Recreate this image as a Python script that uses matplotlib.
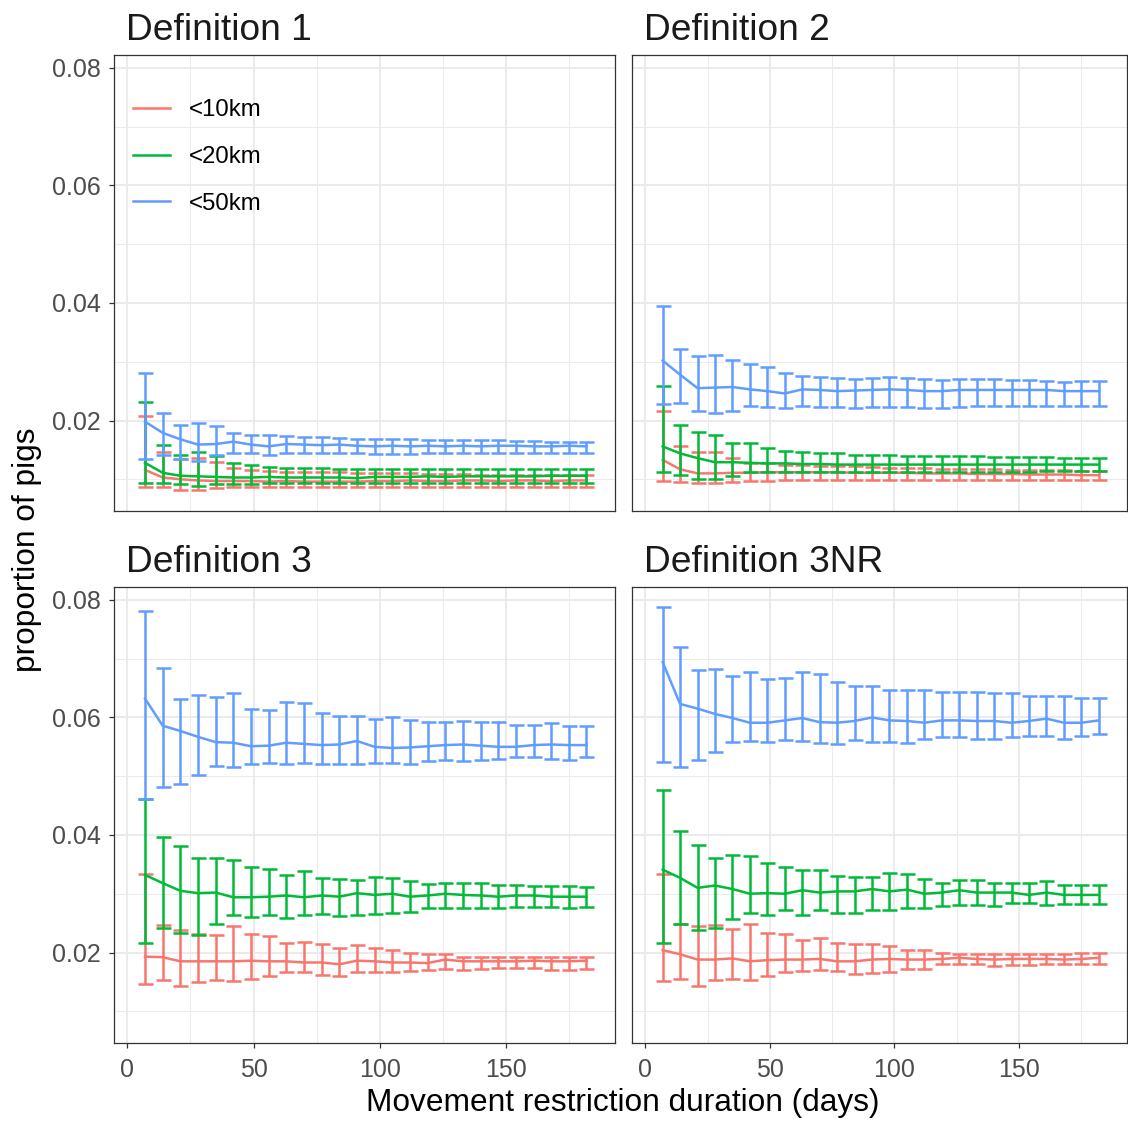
import numpy as np
import matplotlib
matplotlib.use("Agg")
from matplotlib import pyplot as plt
from matplotlib.ticker import MultipleLocator

plt.rcParams['font.family'] = ['Liberation Sans', 'DejaVu Sans']

days = list(range(7, 183, 7))
labels = ["<10km", "<20km", "<50km"]
colors = ["#F8766D", "#00BA38", "#619CFF"]
titles = ["Definition 1", "Definition 2", "Definition 3", "Definition 3NR"]

# Definition 1
d1_10_mean = [0.0116, 0.0103, 0.0100, 0.0098, 0.0097, 0.0097, 0.0097, 0.0096, 0.0097, 0.0096, 0.0096, 0.0096, 0.0096,
              0.0097, 0.0097, 0.0098, 0.0097, 0.0097, 0.0098, 0.0098, 0.0097, 0.0098, 0.0098, 0.0097, 0.0098, 0.0098]
d1_10_hi = [0.0207, 0.0147, 0.0134, 0.0136, 0.0129, 0.0120, 0.0115, 0.0114, 0.0113, 0.0113, 0.0112, 0.0112, 0.0111,
            0.0110, 0.0110, 0.0110, 0.0109, 0.0109, 0.0109, 0.0108, 0.0108, 0.0108, 0.0108, 0.0108, 0.0107, 0.0107]
d1_10_lo = [0.0086, 0.0086, 0.0081, 0.0082, 0.0085, 0.0087, 0.0087, 0.0087, 0.0087, 0.0087, 0.0087, 0.0087, 0.0087,
            0.0086, 0.0087, 0.0087, 0.0087, 0.0087, 0.0087, 0.0087, 0.0087, 0.0087, 0.0087, 0.0087, 0.0087, 0.0087]
d1_20_mean = [0.0128, 0.0111, 0.0106, 0.0105, 0.0104, 0.0103, 0.0103, 0.0104, 0.0103, 0.0103, 0.0103, 0.0103, 0.0102,
              0.0104, 0.0104, 0.0104, 0.0105, 0.0104, 0.0105, 0.0105, 0.0105, 0.0105, 0.0105, 0.0106, 0.0106, 0.0106]
d1_20_hi = [0.0231, 0.0158, 0.0141, 0.0146, 0.0140, 0.0128, 0.0124, 0.0121, 0.0119, 0.0119, 0.0119, 0.0118, 0.0118,
            0.0118, 0.0117, 0.0117, 0.0117, 0.0117, 0.0117, 0.0117, 0.0117, 0.0117, 0.0117, 0.0117, 0.0117, 0.0117]
d1_20_lo = [0.0094, 0.0094, 0.0092, 0.0089, 0.0092, 0.0092, 0.0092, 0.0093, 0.0093, 0.0093, 0.0093, 0.0093, 0.0093,
            0.0094, 0.0094, 0.0094, 0.0094, 0.0094, 0.0094, 0.0094, 0.0094, 0.0094, 0.0094, 0.0094, 0.0094, 0.0094]
d1_50_mean = [0.0198, 0.0179, 0.0168, 0.0159, 0.0160, 0.0164, 0.0159, 0.0156, 0.0160, 0.0159, 0.0158, 0.0159, 0.0157,
              0.0156, 0.0157, 0.0156, 0.0157, 0.0156, 0.0157, 0.0156, 0.0157, 0.0157, 0.0156, 0.0156, 0.0157, 0.0156]
d1_50_hi = [0.0281, 0.0212, 0.0193, 0.0196, 0.0190, 0.0179, 0.0176, 0.0176, 0.0173, 0.0172, 0.0172, 0.0170, 0.0168,
            0.0168, 0.0168, 0.0168, 0.0167, 0.0167, 0.0167, 0.0166, 0.0166, 0.0165, 0.0165, 0.0164, 0.0163, 0.0163]
d1_50_lo = [0.0135, 0.0142, 0.0134, 0.0131, 0.0141, 0.0145, 0.0145, 0.0142, 0.0145, 0.0145, 0.0145, 0.0145, 0.0144,
            0.0143, 0.0143, 0.0143, 0.0144, 0.0144, 0.0144, 0.0144, 0.0144, 0.0144, 0.0144, 0.0145, 0.0145, 0.0145]

# Definition 2
d2_10_mean = [0.0133, 0.0117, 0.0110, 0.0110, 0.0111, 0.0111, 0.0112, 0.0112, 0.0112, 0.0112, 0.0112, 0.0111, 0.0111,
              0.0111, 0.0111, 0.0110, 0.0110, 0.0110, 0.0109, 0.0109, 0.0109, 0.0108, 0.0108, 0.0108, 0.0107, 0.0107]
d2_10_hi = [0.0217, 0.0156, 0.0147, 0.0147, 0.0137, 0.0128, 0.0127, 0.0125, 0.0124, 0.0123, 0.0123, 0.0122, 0.0121,
            0.0120, 0.0119, 0.0119, 0.0118, 0.0118, 0.0117, 0.0117, 0.0116, 0.0116, 0.0115, 0.0115, 0.0114, 0.0114]
d2_10_lo = [0.0097, 0.0095, 0.0093, 0.0093, 0.0095, 0.0097, 0.0097, 0.0098, 0.0098, 0.0098, 0.0099, 0.0099, 0.0099,
            0.0099, 0.0099, 0.0099, 0.0099, 0.0099, 0.0099, 0.0099, 0.0099, 0.0099, 0.0099, 0.0099, 0.0099, 0.0099]
d2_20_mean = [0.0156, 0.0144, 0.0136, 0.0129, 0.0129, 0.0128, 0.0127, 0.0127, 0.0126, 0.0126, 0.0125, 0.0125, 0.0125,
              0.0125, 0.0125, 0.0125, 0.0125, 0.0125, 0.0125, 0.0125, 0.0125, 0.0125, 0.0125, 0.0125, 0.0125, 0.0125]
d2_20_hi = [0.0258, 0.0192, 0.0180, 0.0176, 0.0162, 0.0162, 0.0154, 0.0148, 0.0146, 0.0145, 0.0144, 0.0142, 0.0141,
            0.0141, 0.0140, 0.0140, 0.0139, 0.0139, 0.0139, 0.0138, 0.0138, 0.0138, 0.0138, 0.0137, 0.0137, 0.0137]
d2_20_lo = [0.0112, 0.0108, 0.0101, 0.0101, 0.0106, 0.0112, 0.0112, 0.0112, 0.0112, 0.0112, 0.0112, 0.0112, 0.0113,
            0.0113, 0.0113, 0.0113, 0.0113, 0.0113, 0.0113, 0.0113, 0.0113, 0.0113, 0.0114, 0.0114, 0.0114, 0.0114]
d2_50_mean = [0.0302, 0.0278, 0.0255, 0.0256, 0.0257, 0.0253, 0.0250, 0.0246, 0.0253, 0.0252, 0.0250, 0.0251, 0.0252,
              0.0253, 0.0252, 0.0250, 0.0250, 0.0252, 0.0252, 0.0252, 0.0252, 0.0252, 0.0252, 0.0250, 0.0250, 0.0250]
d2_50_hi = [0.0395, 0.0322, 0.0309, 0.0312, 0.0303, 0.0297, 0.0291, 0.0281, 0.0275, 0.0274, 0.0273, 0.0271, 0.0273,
            0.0274, 0.0273, 0.0270, 0.0269, 0.0270, 0.0271, 0.0270, 0.0269, 0.0269, 0.0268, 0.0266, 0.0268, 0.0268]
d2_50_lo = [0.0228, 0.0230, 0.0217, 0.0212, 0.0217, 0.0224, 0.0223, 0.0221, 0.0224, 0.0223, 0.0223, 0.0221, 0.0223,
            0.0223, 0.0223, 0.0221, 0.0221, 0.0223, 0.0224, 0.0224, 0.0224, 0.0224, 0.0224, 0.0224, 0.0224, 0.0224]

# Definition 3
d3_10_mean = [0.0193, 0.0192, 0.0185, 0.0185, 0.0185, 0.0185, 0.0186, 0.0185, 0.0185, 0.0183, 0.0183, 0.0180, 0.0186,
              0.0185, 0.0183, 0.0183, 0.0182, 0.0188, 0.0185, 0.0185, 0.0185, 0.0185, 0.0186, 0.0185, 0.0185, 0.0186]
d3_10_hi = [0.0334, 0.0247, 0.0239, 0.0231, 0.0229, 0.0245, 0.0231, 0.0228, 0.0217, 0.0218, 0.0214, 0.0208, 0.0212,
            0.0208, 0.0204, 0.0200, 0.0197, 0.0198, 0.0193, 0.0192, 0.0192, 0.0192, 0.0193, 0.0193, 0.0193, 0.0193]
d3_10_lo = [0.0146, 0.0154, 0.0143, 0.0149, 0.0153, 0.0152, 0.0155, 0.0160, 0.0167, 0.0166, 0.0161, 0.0160, 0.0167,
            0.0167, 0.0167, 0.0168, 0.0170, 0.0172, 0.0171, 0.0172, 0.0173, 0.0173, 0.0173, 0.0171, 0.0171, 0.0172]
d3_20_mean = [0.0332, 0.0318, 0.0305, 0.0301, 0.0302, 0.0294, 0.0294, 0.0295, 0.0297, 0.0294, 0.0297, 0.0295, 0.0301,
              0.0298, 0.0300, 0.0295, 0.0297, 0.0300, 0.0298, 0.0297, 0.0295, 0.0297, 0.0297, 0.0295, 0.0295, 0.0295]
d3_20_hi = [0.0462, 0.0397, 0.0381, 0.0360, 0.0360, 0.0358, 0.0345, 0.0342, 0.0332, 0.0338, 0.0327, 0.0325, 0.0324,
            0.0329, 0.0327, 0.0322, 0.0317, 0.0318, 0.0319, 0.0318, 0.0315, 0.0315, 0.0314, 0.0314, 0.0314, 0.0311]
d3_20_lo = [0.0216, 0.0242, 0.0233, 0.0230, 0.0249, 0.0264, 0.0260, 0.0264, 0.0259, 0.0263, 0.0266, 0.0262, 0.0263,
            0.0265, 0.0268, 0.0269, 0.0276, 0.0276, 0.0276, 0.0276, 0.0276, 0.0277, 0.0277, 0.0277, 0.0276, 0.0277]
d3_50_mean = [0.0632, 0.0586, 0.0577, 0.0567, 0.0558, 0.0557, 0.0551, 0.0552, 0.0557, 0.0555, 0.0553, 0.0554, 0.0560,
              0.0550, 0.0548, 0.0549, 0.0551, 0.0553, 0.0554, 0.0552, 0.0550, 0.0550, 0.0553, 0.0554, 0.0553, 0.0553]
d3_50_hi = [0.0781, 0.0685, 0.0632, 0.0639, 0.0634, 0.0641, 0.0615, 0.0612, 0.0626, 0.0625, 0.0608, 0.0603, 0.0602,
            0.0598, 0.0600, 0.0596, 0.0592, 0.0592, 0.0594, 0.0593, 0.0592, 0.0588, 0.0588, 0.0590, 0.0586, 0.0586]
d3_50_lo = [0.0462, 0.0481, 0.0486, 0.0502, 0.0517, 0.0515, 0.0520, 0.0523, 0.0520, 0.0523, 0.0521, 0.0520, 0.0520,
            0.0523, 0.0523, 0.0521, 0.0526, 0.0527, 0.0526, 0.0528, 0.0530, 0.0532, 0.0533, 0.0530, 0.0527, 0.0533]

# Definition 3NR
d3nr_10_mean = [0.0204, 0.0197, 0.0188, 0.0188, 0.0190, 0.0185, 0.0187, 0.0188, 0.0188, 0.0189, 0.0185, 0.0185, 0.0188,
                0.0189, 0.0188, 0.0188, 0.0189, 0.0191, 0.0189, 0.0188, 0.0189, 0.0189, 0.0189, 0.0188, 0.0189, 0.0191]
d3nr_10_hi = [0.0334, 0.0249, 0.0245, 0.0246, 0.0240, 0.0249, 0.0234, 0.0231, 0.0221, 0.0224, 0.0216, 0.0215, 0.0215,
              0.0211, 0.0205, 0.0204, 0.0200, 0.0198, 0.0197, 0.0198, 0.0198, 0.0198, 0.0198, 0.0198, 0.0199, 0.0199]
d3nr_10_lo = [0.0151, 0.0155, 0.0143, 0.0153, 0.0155, 0.0154, 0.0160, 0.0167, 0.0168, 0.0170, 0.0168, 0.0164, 0.0165,
              0.0167, 0.0172, 0.0172, 0.0180, 0.0180, 0.0180, 0.0177, 0.0178, 0.0178, 0.0180, 0.0180, 0.0180, 0.0180]
d3nr_20_mean = [0.0341, 0.0327, 0.0310, 0.0314, 0.0308, 0.0300, 0.0301, 0.0300, 0.0306, 0.0302, 0.0304, 0.0304, 0.0308,
                0.0304, 0.0307, 0.0300, 0.0302, 0.0306, 0.0302, 0.0302, 0.0302, 0.0298, 0.0302, 0.0298, 0.0298, 0.0298]
d3nr_20_hi = [0.0476, 0.0406, 0.0383, 0.0360, 0.0366, 0.0364, 0.0353, 0.0345, 0.0341, 0.0341, 0.0331, 0.0328, 0.0328,
              0.0335, 0.0334, 0.0325, 0.0318, 0.0324, 0.0324, 0.0318, 0.0318, 0.0318, 0.0321, 0.0315, 0.0315, 0.0315]
d3nr_20_lo = [0.0216, 0.0249, 0.0239, 0.0242, 0.0257, 0.0267, 0.0264, 0.0272, 0.0264, 0.0272, 0.0267, 0.0267, 0.0272,
              0.0272, 0.0276, 0.0276, 0.0279, 0.0281, 0.0280, 0.0279, 0.0284, 0.0284, 0.0281, 0.0283, 0.0283, 0.0283]
d3nr_50_mean = [0.0694, 0.0623, 0.0615, 0.0606, 0.0599, 0.0591, 0.0591, 0.0595, 0.0599, 0.0592, 0.0591, 0.0594, 0.0600,
                0.0595, 0.0594, 0.0591, 0.0595, 0.0595, 0.0594, 0.0594, 0.0591, 0.0594, 0.0598, 0.0591, 0.0591, 0.0595]
d3nr_50_hi = [0.0788, 0.0720, 0.0680, 0.0683, 0.0671, 0.0678, 0.0666, 0.0667, 0.0677, 0.0674, 0.0661, 0.0653, 0.0653,
              0.0647, 0.0647, 0.0646, 0.0643, 0.0643, 0.0643, 0.0641, 0.0641, 0.0636, 0.0636, 0.0637, 0.0633, 0.0633]
d3nr_50_lo = [0.0524, 0.0516, 0.0527, 0.0542, 0.0558, 0.0560, 0.0558, 0.0561, 0.0560, 0.0556, 0.0555, 0.0562, 0.0558,
              0.0558, 0.0557, 0.0564, 0.0567, 0.0567, 0.0564, 0.0563, 0.0567, 0.0569, 0.0569, 0.0564, 0.0569, 0.0572]

panels = [
    [(d1_10_mean, d1_10_lo, d1_10_hi), (d1_20_mean, d1_20_lo, d1_20_hi), (d1_50_mean, d1_50_lo, d1_50_hi)],
    [(d2_10_mean, d2_10_lo, d2_10_hi), (d2_20_mean, d2_20_lo, d2_20_hi), (d2_50_mean, d2_50_lo, d2_50_hi)],
    [(d3_10_mean, d3_10_lo, d3_10_hi), (d3_20_mean, d3_20_lo, d3_20_hi), (d3_50_mean, d3_50_lo, d3_50_hi)],
    [(d3nr_10_mean, d3nr_10_lo, d3nr_10_hi), (d3nr_20_mean, d3nr_20_lo, d3nr_20_hi),
     (d3nr_50_mean, d3nr_50_lo, d3nr_50_hi)],
]

W, H = 1128, 1121
fig = plt.figure(figsize=(W / 100, H / 100), dpi=100)

# panel boxes in pixels: left, top, right, bottom
boxes = [(114, 55, 615, 511), (632, 55, 1127, 511),
         (114, 587, 615, 1043), (632, 587, 1127, 1043)]

x = np.array(days)
for i, (l, t, r, b) in enumerate(boxes):
    ax = fig.add_axes([l / W, 1 - b / H, (r - l) / W, (b - t) / H])
    for s, (m, lo, hi) in enumerate(panels[i]):
        m = np.array(m)
        lo = np.array(lo)
        hi = np.array(hi)
        ax.plot(x, m, color=colors[s], lw=1.8, label=labels[s], zorder=3 + s)
        ax.errorbar(x, m, yerr=[m - lo, hi - m], fmt='none', ecolor=colors[s],
                    elinewidth=1.8, capsize=5.4, capthick=1.8, zorder=3 + s)
    ax.set_xlim(-5.3, 193.3)
    ax.set_ylim(0.0046, 0.0822)
    ax.xaxis.set_major_locator(MultipleLocator(50))
    ax.xaxis.set_minor_locator(MultipleLocator(25))
    ax.yaxis.set_major_locator(MultipleLocator(0.02))
    ax.yaxis.set_minor_locator(MultipleLocator(0.01))
    ax.grid(which='major', color='#EBEBEB', lw=1.4)
    ax.grid(which='minor', color='#EBEBEB', lw=0.7)
    ax.set_axisbelow(True)
    for sp in ax.spines.values():
        sp.set_color('#333333')
        sp.set_linewidth(0.9)
    ax.tick_params(which='major', length=3.5, width=0.9, color='#333333',
                   labelcolor='#4D4D4D', labelsize=18)
    ax.tick_params(axis='y', pad=6)
    ax.tick_params(axis='x', pad=7)
    ax.tick_params(which='minor', length=0)
    ax.yaxis.set_major_formatter(matplotlib.ticker.FormatStrFormatter('%.2f'))
    if i % 2 == 1:
        ax.tick_params(axis='y', labelleft=False, length=0)
    if i < 2:
        ax.tick_params(axis='x', labelbottom=False, length=0)
    ax.text(12 / (r - l), 1 + 15 / (b - t), titles[i], transform=ax.transAxes,
            fontsize=26.7, color='#1A1A1A', ha='left', va='baseline')
    if i == 0:
        leg = ax.legend(loc='upper left', bbox_to_anchor=(0.038, 0.903), frameon=False,
                        fontsize=17.3, handlelength=1.54, handletextpad=0.79,
                        labelspacing=1.03, borderpad=0, borderaxespad=0)

fig.text(623 / W, 1 - 1103 / H, "Movement restriction duration (days)", fontsize=22.8,
         ha='center', va='center')
fig.text(27 / W, 1 - 550 / H, "proportion of pigs", fontsize=22.8, rotation=90,
         ha='center', va='center')

fig.savefig("out.png", dpi=100)
